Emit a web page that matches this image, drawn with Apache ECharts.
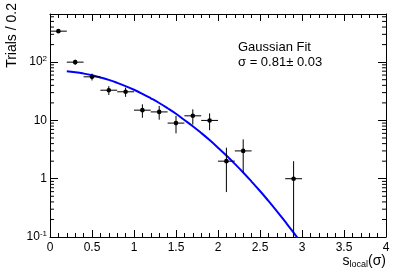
<!DOCTYPE html>
<html>
<head>
<meta charset="utf-8">
<script src="https://cdn.jsdelivr.net/npm/echarts@6/dist/echarts.min.js"></script>
<style>html,body{margin:0;padding:0;background:#fff}#c{width:399px;height:273px}</style>
</head>
<body>
<div id="c"></div>
<script>
// Histogram points (bin centres), counts and errors
const binX = [0.1, 0.3, 0.5, 0.7, 0.9, 1.1, 1.3, 1.5, 1.7, 1.9, 2.1, 2.3, 2.9];
const counts = [340, 100, 56, 33, 31, 15, 14, 9, 12, 10, 2, 3, 1];
const errLow = [18, 10, 7.5, 5.7, 5.6, 3.9, 3.7, 3, 3.5, 3.2, 1.41, 1.73, 1];
const errHigh = [18, 10, 7.5, 5.7, 5.6, 3.9, 3.7, 3, 3.5, 3.2, 1.41, 1.73, 1];
const binHalf = [0.1, 0.1, 0.1, 0.1, 0.1, 0.1, 0.1, 0.1, 0.1, 0.1, 0.1, 0.1, 0.1];
// Gaussian fit curve
const fitX = [0.2, 0.3, 0.4, 0.5, 0.6, 0.7, 0.8, 0.9, 1.0, 1.1, 1.2, 1.3, 1.4, 1.5, 1.6, 1.7, 1.8, 1.9, 2.0, 2.1, 2.2, 2.3, 2.4, 2.5, 2.6, 2.7, 2.8, 2.9, 2.95];
const fitY = [69.9, 67.2, 63.7, 59.5, 54.7, 49.6, 44.2, 38.8, 33.6, 28.6, 24.0, 19.9, 16.2, 13.0, 10.2, 7.96, 6.10, 4.60, 3.41, 2.50, 1.80, 1.28, 0.893, 0.615, 0.417, 0.279, 0.183, 0.119, 0.095];
// Axis tick values
const xMin = 0, xMax = 4, xStep = 0.5;
const yMin = 0.1, yMax = 670;
const yMinorTicks = [0.2,0.3,0.4,0.5,0.6,0.7,0.8,0.9,2,3,4,5,6,7,8,9,20,30,40,50,60,70,80,90,200,300,400,500,600];
const yTitle = 'Trials / 0.2';
const legendLines = ['Gaussian Fit', 'σ = 0.81± 0.03'];

const FONT = '"Liberation Sans", Arial, Helvetica, sans-serif';
const chart = echarts.init(document.getElementById('c'), null, {renderer: 'canvas'});

function yLabel(v) {
  const e = Math.round(Math.log10(v));
  if (Math.abs(Math.log10(v) - e) > 1e-6) return '';
  if (e === 0) return '{n|1}';
  if (e === 1) return '{n|10}';
  return '{n|10}{s|' + (e < 0 ? '-' : '') + Math.abs(e) + '}';
}
const richY = {
  n: {fontFamily: FONT, fontSize: 12, color: '#000'},
  s: {fontFamily: FONT, fontSize: 8, color: '#000', padding: [0, 0, 7, 0]}
};

const pts = binX.map((x, i) => [x, counts[i], Math.max(counts[i] - errLow[i], yMin), counts[i] + errHigh[i], binHalf[i]]);

const axisLine = {show: true, onZero: false, lineStyle: {color: '#000', width: 1}};

chart.setOption({
  animation: false,
  grid: {left: 50, right: 13, top: 14, bottom: 36, containLabel: false},
  xAxis: [
    {type: 'value', min: xMin, max: xMax, interval: xStep, position: 'bottom',
     axisLine: axisLine,
     axisTick: {show: true, inside: true, length: 7, lineStyle: {color: '#000'}},
     minorTick: {show: true, splitNumber: 5, length: 4, lineStyle: {color: '#000'}},
     splitLine: {show: false},
     axisLabel: {fontFamily: FONT, fontSize: 12, color: '#000', margin: 5,
       formatter: v => String(Math.round(v * 10) / 10)}},
    {type: 'value', min: xMin, max: xMax, interval: xStep, position: 'top',
     axisLine: axisLine,
     axisTick: {show: true, inside: true, length: 7, lineStyle: {color: '#000'}},
     minorTick: {show: true, splitNumber: 5, length: 4, lineStyle: {color: '#000'}},
     splitLine: {show: false}, axisLabel: {show: false}}
  ],
  yAxis: [
    {type: 'log', logBase: 10, min: yMin, max: yMax, position: 'left',
     axisLine: axisLine,
     axisTick: {show: true, inside: true, length: 8, lineStyle: {color: '#000'}},
     splitLine: {show: false},
     axisLabel: {margin: 3, formatter: yLabel, rich: richY, showMaxLabel: false}},
    {type: 'log', logBase: 10, min: yMin, max: yMax, position: 'right',
     axisLine: axisLine,
     axisTick: {show: true, inside: true, length: 8, lineStyle: {color: '#000'}},
     splitLine: {show: false}, axisLabel: {show: false}}
  ],
  series: [
    {
      type: 'custom', name: 'minorY', silent: true, xAxisIndex: 0, yAxisIndex: 0,
      data: yMinorTicks.map(v => [xMin, v]),
      renderItem: function (params, api) {
        const v = api.value(1);
        const l = api.coord([xMin, v]);
        const r = api.coord([xMax, v]);
        return {type: 'group', children: [
          {type: 'line', shape: {x1: l[0], y1: l[1], x2: l[0] + 4, y2: l[1]}, style: {stroke: '#000', lineWidth: 1}},
          {type: 'line', shape: {x1: r[0], y1: r[1], x2: r[0] - 4, y2: r[1]}, style: {stroke: '#000', lineWidth: 1}}
        ]};
      }
    },
    {
      type: 'line', name: 'fit', data: fitX.map((x, i) => [x, fitY[i]]),
      showSymbol: false, smooth: true, clip: true,
      lineStyle: {color: '#0000ff', width: 2}, z: 3
    },
    {
      type: 'custom', name: 'data', clip: true, z: 4,
      data: pts,
      renderItem: function (params, api) {
        const x = api.value(0), y = api.value(1), lo = api.value(2), hi = api.value(3), hw = api.value(4);
        const c = api.coord([x, y]);
        const pLo = api.coord([x, lo]);
        const pHi = api.coord([x, hi]);
        const pL = api.coord([x - hw, y]);
        const pR = api.coord([x + hw, y]);
        return {type: 'group', children: [
          {type: 'line', shape: {x1: pLo[0], y1: pLo[1], x2: pHi[0], y2: pHi[1]}, style: {stroke: '#000', lineWidth: 1}},
          {type: 'line', shape: {x1: pL[0], y1: pL[1], x2: pR[0], y2: pR[1]}, style: {stroke: '#000', lineWidth: 1}},
          {type: 'circle', shape: {cx: c[0], cy: c[1], r: 2.3}, style: {fill: '#000'}}
        ]};
      }
    }
  ],
  graphic: [
    {type: 'text', rotation: Math.PI / 2, originX: 0, originY: 0,
     style: {text: yTitle, fontFamily: FONT, fontSize: 14, fill: '#000', align: 'right', verticalAlign: 'top'},
     position: [5, 3]},
    {type: 'text', right: 13, top: 254,
     style: {text: '{a|s}{b|local}{a|(σ)}', fontFamily: FONT, fill: '#000',
       rich: {a: {fontFamily: FONT, fontSize: 14, color: '#000'},
              b: {fontFamily: FONT, fontSize: 9, color: '#000', padding: [7, 0, 0, 0]}}}},
    {type: 'text', left: 238, top: 40,
     style: {text: legendLines.join('\n'), fontFamily: FONT, fontSize: 13, lineHeight: 15, fill: '#000'}}
  ]
});
</script>
</body>
</html>
